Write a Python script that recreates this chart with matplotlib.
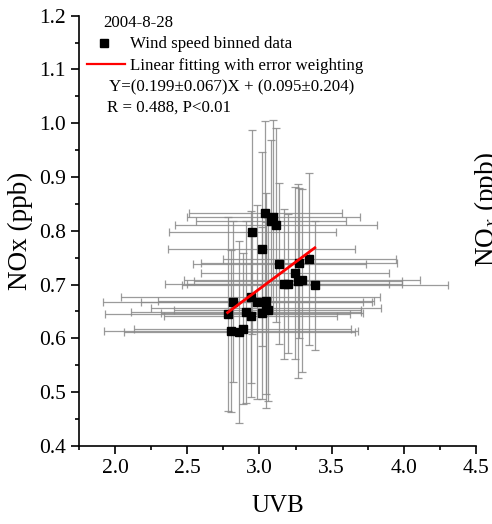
import matplotlib
matplotlib.use("Agg")
import matplotlib.pyplot as plt
import numpy as np

plt.rcParams['font.family'] = ['Liberation Serif', 'DejaVu Serif']
plt.rcParams['mathtext.fontset'] = 'stix'

uvb = [3.040, 3.095, 3.077, 3.114, 2.950, 3.015, 3.137, 3.274, 3.345, 3.246,
       3.167, 3.199, 3.269, 3.294, 3.384, 2.818, 2.939, 2.980, 3.045, 3.045,
       2.779, 2.906, 2.941, 3.019, 2.800, 2.860, 2.883, 3.057]
nox = [0.834, 0.826, 0.818, 0.811, 0.798, 0.766, 0.739, 0.740, 0.747, 0.721,
       0.701, 0.702, 0.707, 0.708, 0.699, 0.668, 0.677, 0.668, 0.670, 0.657,
       0.645, 0.649, 0.641, 0.647, 0.614, 0.612, 0.618, 0.653]
uvb_err = [0.53, 0.60, 0.52, 0.70, 0.58, 0.65, 0.60, 0.68, 0.60, 0.65,
           0.82, 0.70, 0.72, 0.82, 0.92, 0.90, 0.90, 0.80, 0.75, 0.80,
           0.85, 0.80, 0.60, 0.70, 0.88, 0.80, 0.75, 0.65]
nox_err = [0.17, 0.18, 0.15, 0.18, 0.19, 0.18, 0.15, 0.14, 0.16, 0.16,
           0.14, 0.13, 0.18, 0.17, 0.12, 0.15, 0.16, 0.18, 0.20, 0.16,
           0.18, 0.17, 0.15, 0.16, 0.15, 0.17, 0.14, 0.17]
fit_slope = 0.199
fit_intercept = 0.095

fig = plt.figure(figsize=(4.92, 5.24), dpi=100)
ax = fig.add_axes([0.161, 0.149, 0.806, 0.821])

ax.errorbar(uvb, nox, xerr=uvb_err, yerr=nox_err, fmt='none',
            ecolor='#8a8a8a', elinewidth=0.9, capsize=3, capthick=0.9, alpha=0.85, zorder=1)
ax.plot(uvb, nox, 's', color='black', markersize=6, zorder=3)
xf = np.array([min(uvb), max(uvb)])
ax.plot(xf, fit_slope * xf + fit_intercept, color='red', lw=2, zorder=4)

ax.set_xlim(1.75, 4.5)
ax.set_ylim(0.4, 1.2)
ax.set_xticks([2.0, 2.5, 3.0, 3.5, 4.0, 4.5])
ax.set_xticks(np.arange(1.75, 4.51, 0.25), minor=True)
ax.set_yticks(np.arange(0.4, 1.21, 0.1))
ax.set_yticks(np.arange(0.4, 1.21, 0.05), minor=True)
ax.set_xticklabels(['2.0', '2.5', '3.0', '3.5', '4.0', '4.5'])
ax.set_yticklabels(['0.4', '0.5', '0.6', '0.7', '0.8', '0.9', '1.0', '1.1', '1.2'])
ax.tick_params(which='major', direction='out', length=6, width=1.2, labelsize=15.5)
ax.tick_params(which='minor', direction='out', length=3, width=1.2)
for s in ['top', 'right']:
    ax.spines[s].set_visible(False)
for s in ['left', 'bottom']:
    ax.spines[s].set_linewidth(1.2)
ax.set_xlabel('UVB', fontsize=18, labelpad=12)
ax.set_ylabel('NOx (ppb)', fontsize=19.5, labelpad=4)

def fx(px):
    return px / 492.0
def fy(py):
    return 1 - py / 524.0

fs = 12.2
fig.text(fx(103), fy(27), '2004-8-28', fontsize=fs, va='baseline')
fig.lines.append(matplotlib.lines.Line2D([fx(104)], [fy(43)], marker='s', color='black',
                                         markersize=5.5, transform=fig.transFigure))
fig.text(fx(130), fy(48), 'Wind speed binned data', fontsize=fs, va='baseline')
fig.lines.append(matplotlib.lines.Line2D([fx(86.7), fx(125)], [fy(64), fy(64)], color='red',
                                         lw=1.6, transform=fig.transFigure))
fig.text(fx(130), fy(70.5), 'Linear fitting with error weighting', fontsize=fs, va='baseline')
fig.text(fx(109), fy(91.5), 'Y=(0.199±0.067)X + (0.095±0.204)', fontsize=fs, va='baseline')
fig.text(fx(107), fy(111.5), 'R = 0.488, P<0.01', fontsize=fs, va='baseline')

# clipped label of the neighbouring panel
fig.text(fx(472), fy(267), 'NO$_x$ (ppb)', fontsize=19.5, rotation=90, ha='left', va='bottom')

fig.savefig('out.png', dpi=100)
